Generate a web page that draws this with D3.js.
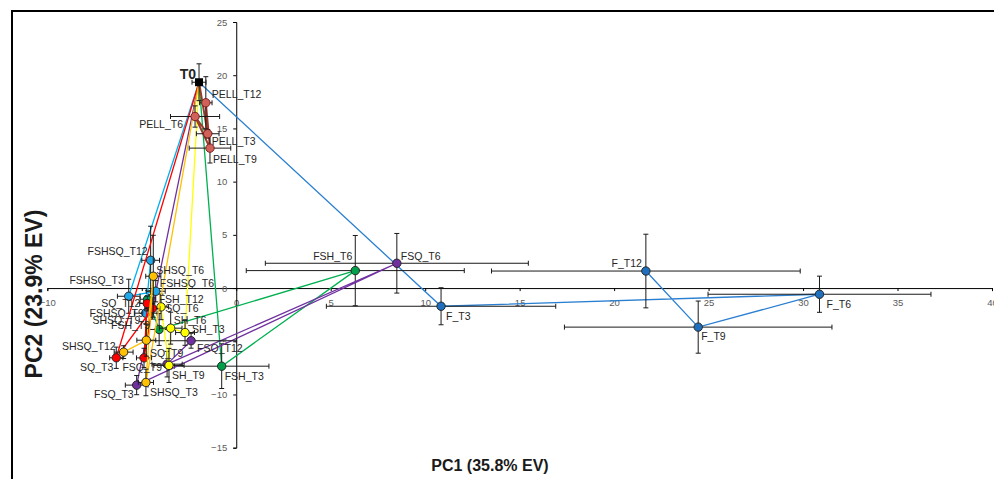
<!DOCTYPE html>
<html>
<head>
<meta charset="utf-8">
<script src="https://cdn.jsdelivr.net/npm/d3@7"></script>
<style>
  body { margin: 0; background: #fff; }
  svg { display: block; font-family: "Liberation Sans", Arial, sans-serif; }
  .tick text { fill: #595959; font-size: 9.5px; }
  .pt-label { font-size: 10.5px; fill: #262626; }
</style>
</head>
<body>
<div id="chart"></div>
<script>
// treatments and sampling times (T0 is the shared starting point)
var groups = ['F', 'FSH', 'FSQ', 'FSHSQ', 'SH', 'SQ', 'SHSQ', 'PELL'];
var times = ['T3', 'T6', 'T9', 'T12'];

// PC1 scores, one row per group, columns T3 T6 T9 T12
var pc1 = [
  [10.84, 30.87, 24.45, 21.68],
  [-0.77, 6.30, -4.08, -4.69],
  [-5.27, 8.50, -3.66, -2.39],
  [-5.69, -4.26, -4.79, -4.53],
  [-2.71, -3.47, -3.56, -3.98],
  [-6.35, -4.44, -4.88, -4.71],
  [-4.78, -4.39, -4.76, -5.96],
  [-1.51, -2.18, -1.39, -1.61]
];
// PC2 scores
var pc2 = [
  [-1.71, -0.58, -3.67, 1.60],
  [-7.34, 1.64, -3.89, -1.05],
  [-9.12, 2.33, -7.15, -4.95],
  [-0.77, -0.30, -2.36, 2.61],
  [-4.18, -3.77, -7.27, -1.77],
  [-6.55, -1.92, -6.56, -1.45],
  [-8.87, 1.11, -4.90, -6.02],
  [14.50, 16.12, 13.15, 17.41]
];
// error bars (PC1 / PC2)
var pc1Err = [
  [6.07, 5.9, 7.08, 8.17],
  [2.5, 5.77, 0.7, 0.4],
  [0.6, 6.96, 0.8, 2.4],
  [0.6, 0.5, 0.6, 0.47],
  [0.5, 0.6, 0.8, 0.4],
  [0.35, 0.4, 0.4, 0.4],
  [0.4, 0.4, 0.5, 0.5],
  [0.6, 1.3, 1.1, 0.33]
];
var pc2Err = [
  [1.74, 1.7, 2.45, 3.46],
  [2.1, 3.3, 1.5, 0.8],
  [0.9, 2.8, 1.2, 0.7],
  [1.6, 1.0, 1.0, 3.2],
  [1.2, 1.5, 1.6, 1.2],
  [1.0, 1.0, 0.9, 0.7],
  [1.25, 3.85, 1.5, 0.6],
  [0.4, 1.0, 1.4, 2.45]
];
var t0 = {pc1: -1.97, pc2: 19.34, e1: 0.37, e2: 1.73};

var xTicks = [-10, -5, 0, 5, 10, 15, 20, 25, 30, 35, 40];
var yTicks = [-15, -10, -5, 0, 5, 10, 15, 20, 25];

// styling per group
var lineColor = {F: '#2a7fd0', FSH: '#00b050', FSQ: '#7030a0', FSHSQ: '#00b0f0', SH: '#ffff00', SQ: '#ff0000', SHSQ: '#ffc000', PELL: '#9c3b2c'};
var fillColor = {F: '#1f6fbf', FSH: '#00a04a', FSQ: '#7030a0', FSHSQ: '#22a8e8', SH: '#ffff00', SQ: '#ff0000', SHSQ: '#ffc000', PELL: '#d0625a'};

// label placement: [dx, dy, anchor]
var labelPos = {
  T0: [-3, -8, 'end'],
  PELL_T12: [6, -8, 'start'], PELL_T6: [-12, 8, 'end'], PELL_T3: [4, 8, 'start'], PELL_T9: [3, 11, 'start'],
  FSH_T6: [-3, -14, 'end'], FSQ_T6: [4, -7, 'start'], F_T3: [5, 10, 'start'],
  F_T12: [-4, -8, 'end'], F_T6: [7, 10, 'start'], F_T9: [3, 9, 'start'],
  FSHSQ_T12: [-3, -9, 'end'], SHSQ_T6: [3, -6, 'start'], FSHSQ_T3: [-5, -16, 'end'],
  FSHSQ_T6: [4, -8, 'start'], FSH_T12: [11, 0, 'start'], SQ_T12: [-7, 0, 'end'],
  SQ_T6: [13, 0, 'start'], FSHSQ_T9: [-2, 0, 'end'], FSH_T9: [-9, -4, 'end'],
  SH_T6: [3, -8, 'start'], SH_T3: [7, -3, 'start'], SHSQ_T9: [-6, -20, 'end'],
  SHSQ_T12: [-8, -6, 'end'], FSQ_T12: [6, 8, 'start'], SQ_T3: [-3, 10, 'end'],
  SQ_T9: [6, -5, 'start'], FSQ_T9: [-5, 3, 'end'], SH_T9: [3, 10, 'start'],
  FSH_T3: [3, 10, 'start'], FSQ_T3: [-3, 9, 'end'], SHSQ_T3: [4, 10, 'start']
};

var W = 994, H = 479;
var svg = d3.select('#chart').append('svg').attr('width', W).attr('height', H);

svg.append('rect').attr('x', 12).attr('y', 11).attr('width', 1010).attr('height', 500)
  .attr('fill', '#fff').attr('stroke', '#000').attr('stroke-width', 2);

var x = d3.scaleLinear().domain([-10, 40]).range([47.3, 992]);
var y = d3.scaleLinear().domain([-15, 25]).range([447.7, 22]);

var xAxis = svg.append('g').attr('transform', 'translate(0,' + y(0) + ')')
  .call(d3.axisBottom(x).tickValues(xTicks).tickSize(3).tickPadding(6));
var yAxis = svg.append('g').attr('transform', 'translate(' + x(0) + ',0)')
  .call(d3.axisLeft(y).tickValues(yTicks).tickSize(3).tickPadding(6));
[xAxis, yAxis].forEach(function (a) {
  a.select('.domain').attr('stroke', '#000');
  a.selectAll('.tick line').attr('stroke', '#000');
});
xAxis.selectAll('.tick text').attr('dy', '0.9em');

// build points
var series = groups.map(function (g, gi) {
  return {
    name: g,
    pts: times.map(function (t, ti) {
      return {name: g + '_' + t, x: pc1[gi][ti], y: pc2[gi][ti], ex: pc1Err[gi][ti], ey: pc2Err[gi][ti]};
    })
  };
});

var line = d3.line().x(function (d) { return x(d.x); }).y(function (d) { return y(d.y); });

function errorBars(sel, d) {
  var cx = x(d.x), cy = y(d.y), cap = 2.5;
  var x0 = x(d.x - d.ex), x1 = x(d.x + d.ex), y0 = y(d.y - d.ey), y1 = y(d.y + d.ey);
  var p = 'M' + x0 + ',' + cy + 'H' + x1 +
    'M' + x0 + ',' + (cy - cap) + 'V' + (cy + cap) +
    'M' + x1 + ',' + (cy - cap) + 'V' + (cy + cap) +
    'M' + cx + ',' + y0 + 'V' + y1 +
    'M' + (cx - cap) + ',' + y0 + 'H' + (cx + cap) +
    'M' + (cx - cap) + ',' + y1 + 'H' + (cx + cap);
  sel.append('path').attr('d', p).attr('fill', 'none').attr('stroke', '#1a1a1a').attr('stroke-width', 1);
}

series.forEach(function (s) {
  var g = svg.append('g');
  g.append('path').datum([{x: t0.pc1, y: t0.pc2}].concat(s.pts))
    .attr('d', line).attr('fill', 'none')
    .attr('stroke', lineColor[s.name]).attr('stroke-width', s.name === 'PELL' ? 2 : 1.3);
  s.pts.forEach(function (d) { errorBars(g, d); });
  g.selectAll('circle').data(s.pts).enter().append('circle')
    .attr('cx', function (d) { return x(d.x); })
    .attr('cy', function (d) { return y(d.y); })
    .attr('r', 4.2)
    .attr('fill', fillColor[s.name])
    .attr('stroke', s.name === 'PELL' ? '#7a1f1f' : '#262626')
    .attr('stroke-width', 1);
});

// T0
errorBars(svg, {x: t0.pc1, y: t0.pc2, ex: t0.e1, ey: t0.e2});
svg.append('rect').attr('x', x(t0.pc1) - 4).attr('y', y(t0.pc2) - 4)
  .attr('width', 8).attr('height', 8).attr('fill', '#000');

// labels
var labels = [{name: 'T0', x: t0.pc1, y: t0.pc2}];
series.forEach(function (s) { labels = labels.concat(s.pts); });
svg.selectAll('.pt-label').data(labels.filter(function (d) { return labelPos[d.name]; }))
  .enter().append('text').attr('class', 'pt-label')
  .attr('x', function (d) { return x(d.x) + labelPos[d.name][0]; })
  .attr('y', function (d) { return y(d.y) + labelPos[d.name][1]; })
  .attr('dy', '0.35em')
  .attr('text-anchor', function (d) { return labelPos[d.name][2]; })
  .style('font-weight', function (d) { return d.name === 'T0' ? 'bold' : null; })
  .style('font-size', function (d) { return d.name === 'T0' ? '14px' : null; })
  .text(function (d) { return d.name; });

// axis titles
svg.append('text').attr('x', 490).attr('y', 471).attr('text-anchor', 'middle')
  .style('font-weight', 'bold').style('font-size', '16px').attr('fill', '#1a1a1a')
  .text('PC1 (35.8% EV)');
svg.append('text').attr('transform', 'translate(42,294) rotate(-90)').attr('text-anchor', 'middle')
  .style('font-weight', 'bold').style('font-size', '23px').attr('fill', '#1a1a1a')
  .text('PC2 (23.9% EV)');
</script>
</body>
</html>
